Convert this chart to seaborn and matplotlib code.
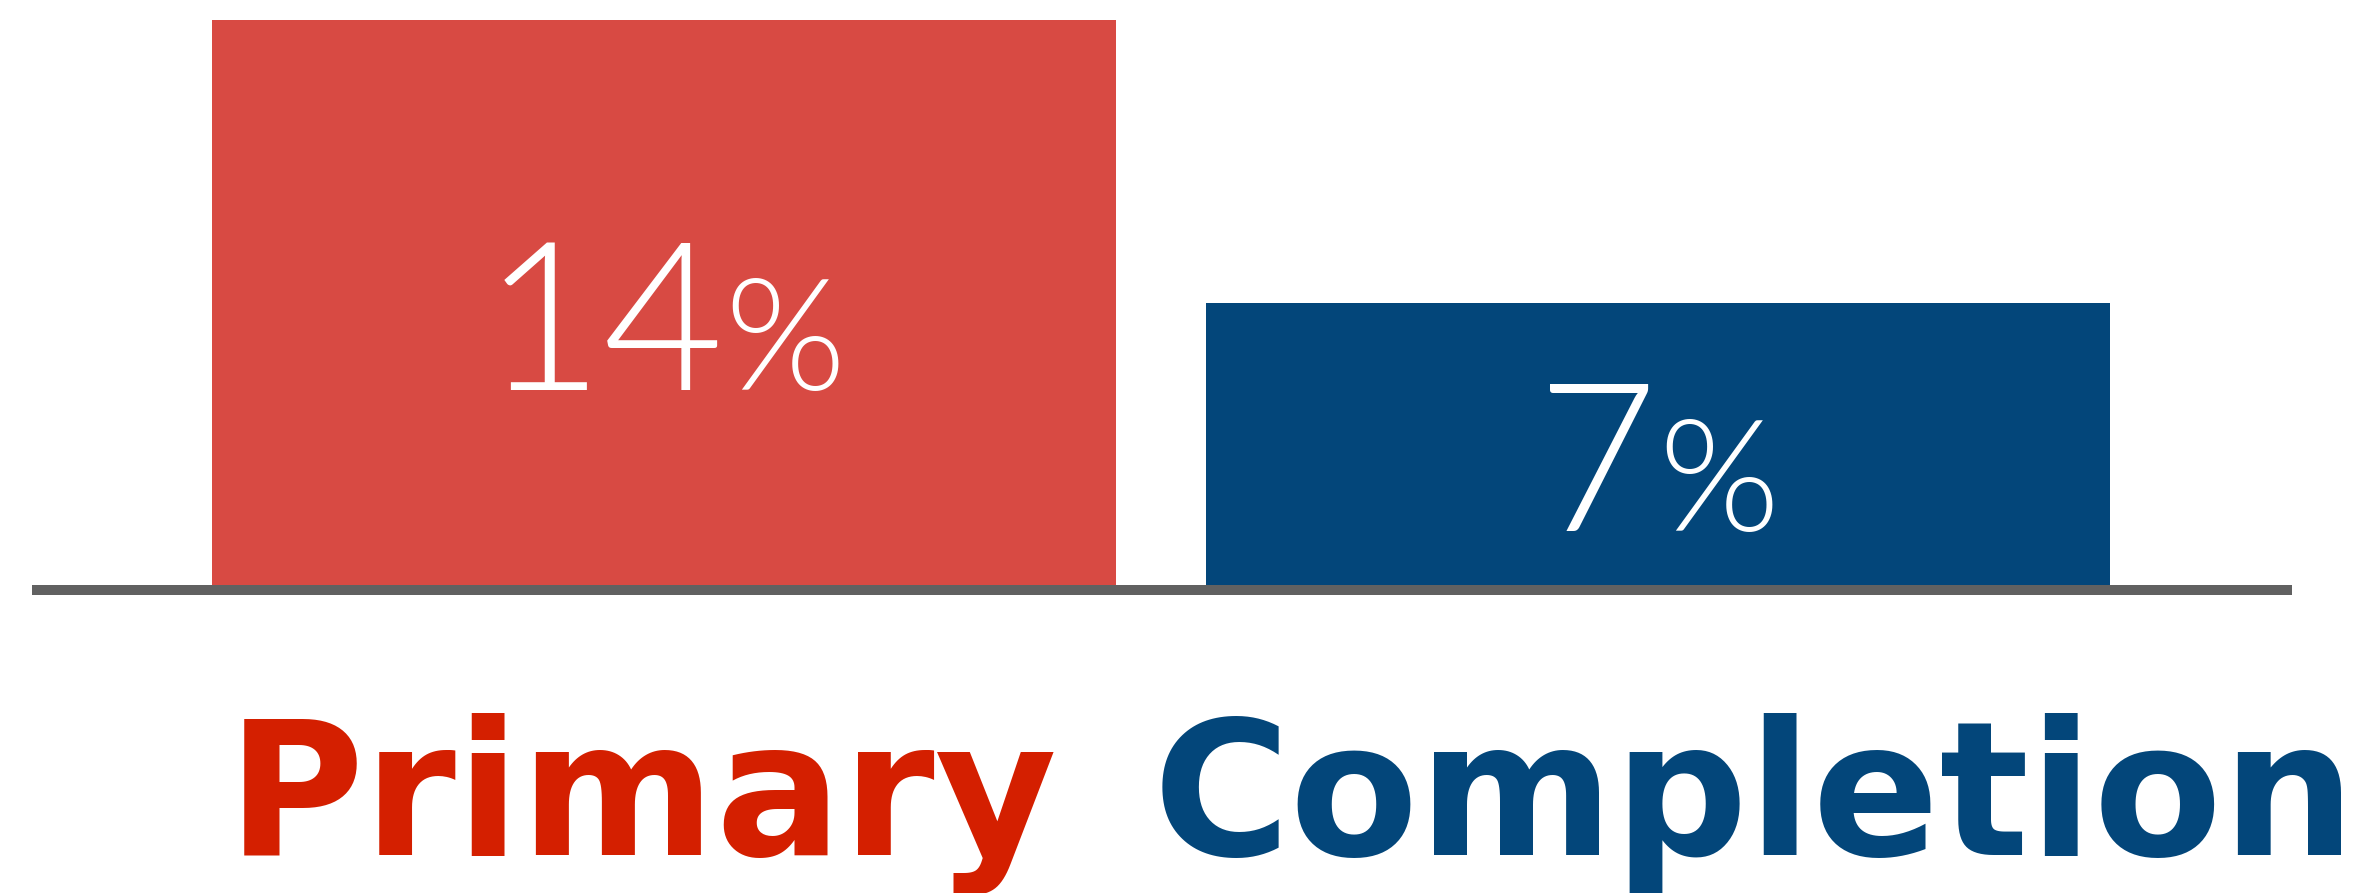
import matplotlib
matplotlib.use("Agg")
import matplotlib.pyplot as plt
import seaborn as sns
import pandas as pd
from matplotlib.lines import Line2D
from matplotlib import transforms

# ---- data ----
categories = ["Primary", "Completion"]
values = [14, 7]
value_labels = ["14", "7"]
bar_colors = ["#D84A43", "#03467A"]
title_colors = ["#D41F00", "#03467A"]

W, H, DPI = 2363, 893, 100
sns.set_theme(style="white")
plt.rcParams["font.family"] = ["Lato", "DejaVu Sans"]

fig = plt.figure(figsize=(W / DPI, H / DPI), dpi=DPI)
fig.patch.set_facecolor("white")

# axes: value 0 at 585px from top, value 14 at 20px from top
ax = fig.add_axes([0, 1 - 585 / H, 1, (585 - 20) / H])
df = pd.DataFrame({"cat": categories, "val": values})
sns.barplot(data=df, x="cat", y="val", hue="cat", palette=bar_colors,
            saturation=1, width=0.909, legend=False, ax=ax, linewidth=0)
ax.set_ylim(0, 14)
ax.set_xlim(-0.668, 1.709)
ax.axis("off")

# baseline
fig.add_artist(Line2D([32 / W, 2292 / W], [1 - 590 / H] * 2, lw=10 * 72 / DPI,
                      color="#616161", solid_capstyle="butt"))

fig.canvas.draw()
r = fig.canvas.get_renderer()

# value labels
for i, (v, lab) in enumerate(zip(values, value_labels)):
    y = v / 2 - 2.17
    tn = ax.text(i, y, lab, fontsize=150, fontweight=300, color="white",
                 ha="left", va="baseline")
    tp = ax.text(i, y, "%", fontsize=112, fontweight=300, color="white",
                 ha="left", va="baseline")
    wn = tn.get_window_extent(r).width
    wp = tp.get_window_extent(r).width
    total = wn + wp
    tn.set_transform(transforms.offset_copy(ax.transData, fig=fig, x=-total / 2, y=0, units="dots"))
    tp.set_transform(transforms.offset_copy(ax.transData, fig=fig, x=-total / 2 + wn, y=0, units="dots"))

# title line "Primary Completion"
F0 = 100
ty = 1 - 855 / H
t1 = fig.text(0, ty, categories[0], fontsize=F0, fontweight="bold",
              color=title_colors[0], family=["DejaVu Sans"], ha="left", va="baseline")
t2 = fig.text(0, ty, categories[1], fontsize=F0, fontweight="bold",
              color=title_colors[1], family=["DejaVu Sans"], ha="left", va="baseline")
w1 = t1.get_window_extent(r).width
w2 = t2.get_window_extent(r).width
gap = 95
s = (2357 - 227 - gap) / (w1 + w2)
F = F0 * s
t1.set_fontsize(F)
t2.set_fontsize(F)
t1.set_x(227 / W)
t2.set_x((227 + w1 * s + gap) / W)

fig.savefig("out.png", dpi=DPI, facecolor="white")
